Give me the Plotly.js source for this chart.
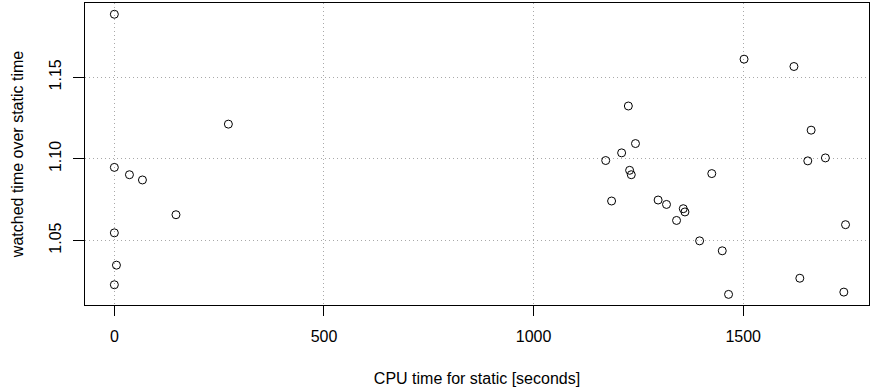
<!DOCTYPE html>
<html>
<head>
<meta charset="utf-8">
<script src="https://cdn.plot.ly/plotly-3.0.1.min.js"></script>
<style>html,body{margin:0;padding:0;background:#fff;}#chart{width:870px;height:390px;}</style>
</head>
<body>
<div id="chart"></div>
<script>
var cpuTime = [0, 272, 0, 36, 67, 147, 0, 5, 0,
  1502, 1621, 1226, 1662, 1243, 1210, 1172, 1654, 1696, 1229, 1233, 1425,
  1186, 1297, 1317, 1357, 1361, 1341, 1744, 1396, 1450, 1635, 1465, 1740];
var ratio = [1.1886, 1.1213, 1.0948, 1.0903, 1.0871, 1.0658, 1.0547, 1.0349, 1.0229,
  1.1611, 1.1566, 1.1324, 1.1176, 1.1094, 1.1037, 1.0990, 1.0988, 1.1006, 1.0930, 1.0903, 1.0910,
  1.0742, 1.0748, 1.0721, 1.0695, 1.0675, 1.0623, 1.0597, 1.0498, 1.0437, 1.0269, 1.0170, 1.0184];
var xTicks = [0, 500, 1000, 1500];
var yTicks = [1.05, 1.10, 1.15];
var xTitle = "CPU time for static [seconds]";
var yTitle = "watched time over static time";

var font = {family: "Liberation Sans, Arial, sans-serif", size: 16, color: "#000"};
Plotly.newPlot("chart", [{
  x: cpuTime, y: ratio, type: "scatter", mode: "markers",
  marker: {symbol: "circle-open", size: 8, color: "#000", line: {width: 1, color: "#000"}},
  hoverinfo: "skip"
}], {
  width: 870, height: 390,
  margin: {l: 85, r: 1, t: 3, b: 85},
  paper_bgcolor: "#fff", plot_bgcolor: "#fff",
  showlegend: false,
  font: font,
  xaxis: {
    range: [-70, 1800], tickvals: xTicks, ticktext: xTicks.map(String),
    ticks: "outside", ticklen: 10, tickcolor: "#000", tickwidth: 1,
    showline: true, mirror: true, linecolor: "#000", linewidth: 1,
    showgrid: true, gridcolor: "#a9a9a9", griddash: "1px,3px", gridwidth: 1,
    zeroline: false, tickfont: font, ticklabelstandoff: 7,
    title: {text: xTitle, font: font, standoff: 28}
  },
  yaxis: {
    range: [1.0105, 1.1955], tickvals: yTicks, ticktext: yTicks.map(function(v){return v.toFixed(2);}),
    ticks: "outside", ticklen: 11, tickcolor: "#000", tickwidth: 1, tickangle: -90,
    showline: true, mirror: true, linecolor: "#000", linewidth: 1,
    showgrid: true, gridcolor: "#a9a9a9", griddash: "1px,3px", gridwidth: 1,
    zeroline: false, tickfont: font, ticklabelstandoff: 6,
    title: {text: yTitle, font: font, standoff: 18}
  }
}, {staticPlot: true});
</script>
</body>
</html>
